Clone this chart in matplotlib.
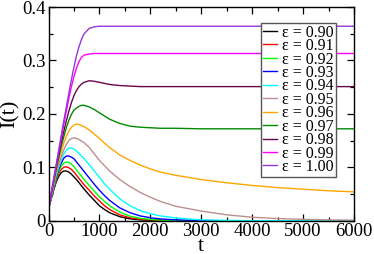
import matplotlib
matplotlib.use("Agg")
from matplotlib import pyplot as plt
from matplotlib.ticker import MultipleLocator, FuncFormatter

# time points (shared by every curve)
t = [0, 50, 100, 150, 200, 250, 300, 350, 400, 450, 500, 550, 600, 650, 700, 800, 900,
     1000, 1100, 1200, 1400, 1600, 1800, 2000, 2200, 2500, 3000, 3500, 4000, 4500, 5000,
     5500, 6000]

eps_labels = ['0.90', '0.91', '0.92', '0.93', '0.94', '0.95', '0.96', '0.97', '0.98', '0.99', '1.00']

I_090 = [0.022, 0.040, 0.057, 0.072, 0.083, 0.090, 0.093, 0.093, 0.091, 0.087, 0.082, 0.077, 0.071,
         0.065, 0.059, 0.048, 0.038, 0.028, 0.021, 0.015, 0.0075, 0.0035, 0.0015, 0.0007, 0.0003,
         0.0001, 0, 0, 0, 0, 0, 0, 0]
I_091 = [0.022, 0.041, 0.059, 0.075, 0.088, 0.096, 0.100, 0.101, 0.099, 0.096, 0.091, 0.085, 0.079,
         0.073, 0.067, 0.057, 0.046, 0.037, 0.028, 0.021, 0.011, 0.0055, 0.0027, 0.0013, 0.0006,
         0.0002, 0, 0, 0, 0, 0, 0, 0]
I_092 = [0.022, 0.042, 0.061, 0.078, 0.092, 0.102, 0.108, 0.110, 0.109, 0.106, 0.101, 0.095, 0.089,
         0.083, 0.077, 0.066, 0.055, 0.045, 0.036, 0.028, 0.016, 0.0085, 0.0045, 0.0023, 0.0012,
         0.0004, 0, 0, 0, 0, 0, 0, 0]
I_093 = [0.022, 0.043, 0.063, 0.081, 0.096, 0.108, 0.117, 0.121, 0.121, 0.119, 0.116, 0.110, 0.104,
         0.098, 0.092, 0.080, 0.068, 0.057, 0.047, 0.038, 0.024, 0.015, 0.009, 0.0055, 0.0033,
         0.0015, 0.0004, 0, 0, 0, 0, 0, 0]
I_094 = [0.022, 0.044, 0.065, 0.084, 0.100, 0.114, 0.125, 0.132, 0.136, 0.136, 0.134, 0.130, 0.126,
         0.121, 0.116, 0.105, 0.093, 0.081, 0.069, 0.059, 0.041, 0.028, 0.019, 0.013, 0.009,
         0.005, 0.0015, 0.0005, 0, 0, 0, 0, 0]
I_095 = [0.022, 0.045, 0.067, 0.087, 0.105, 0.120, 0.133, 0.143, 0.150, 0.154, 0.155, 0.154, 0.152,
         0.149, 0.146, 0.137, 0.125, 0.113, 0.103, 0.093, 0.077, 0.064, 0.053, 0.044, 0.036,
         0.027, 0.018, 0.011, 0.0065, 0.004, 0.0025, 0.0015, 0.001]
I_096 = [0.022, 0.046, 0.069, 0.091, 0.111, 0.129, 0.145, 0.158, 0.168, 0.175, 0.179, 0.181, 0.180,
         0.178, 0.176, 0.170, 0.162, 0.154, 0.145, 0.137, 0.123, 0.113, 0.104, 0.097, 0.091,
         0.085, 0.077, 0.071, 0.066, 0.062, 0.059, 0.056, 0.054]
I_097 = [0.022, 0.047, 0.072, 0.096, 0.118, 0.139, 0.157, 0.174, 0.188, 0.199, 0.207, 0.211, 0.214,
         0.216, 0.216, 0.213, 0.208, 0.202, 0.196, 0.190, 0.182, 0.177, 0.175, 0.174, 0.173,
         0.173, 0.172, 0.172, 0.172, 0.172, 0.172, 0.172, 0.172]
I_098 = [0.022, 0.048, 0.074, 0.099, 0.123, 0.146, 0.167, 0.187, 0.205, 0.221, 0.234, 0.244, 0.251,
         0.256, 0.259, 0.262, 0.261, 0.259, 0.257, 0.255, 0.253, 0.252, 0.251, 0.251, 0.251,
         0.251, 0.251, 0.251, 0.251, 0.251, 0.251, 0.251, 0.251]
I_099 = [0.022, 0.049, 0.076, 0.102, 0.128, 0.154, 0.180, 0.205, 0.229, 0.251, 0.270, 0.286, 0.298,
         0.306, 0.310, 0.312, 0.313, 0.313, 0.313, 0.313, 0.313, 0.313, 0.313, 0.313, 0.313,
         0.313, 0.313, 0.313, 0.313, 0.313, 0.313, 0.313, 0.313]
I_100 = [0.022, 0.050, 0.078, 0.105, 0.132, 0.160, 0.187, 0.213, 0.239, 0.264, 0.288, 0.309, 0.326,
         0.340, 0.350, 0.360, 0.363, 0.364, 0.364, 0.364, 0.364, 0.364, 0.364, 0.364, 0.364,
         0.364, 0.364, 0.364, 0.364, 0.364, 0.364, 0.364, 0.364]

curves = [I_090, I_091, I_092, I_093, I_094, I_095, I_096, I_097, I_098, I_099, I_100]
colors = ['#000000', '#ff0000', '#00ff00', '#0000ff', '#00ffff', '#bc8f8f', '#ffa500',
          '#008b00', '#670748', '#ff00ff', '#9436dc']

plt.rcParams['font.family'] = ['Liberation Serif', 'DejaVu Serif']

fig = plt.figure(figsize=(3.74, 2.54), dpi=100)
ax = fig.add_axes([0.1297, 0.1311, 0.9465 - 0.1297, 0.9724 - 0.1311])

for vals, col, lab in zip(curves, colors, eps_labels):
    ax.plot(t, vals, color=col, lw=1.0, label='\u03b5 = ' + lab)

ax.set_xlim(0, 6000)
ax.set_ylim(0, 0.4)
ax.xaxis.set_major_locator(MultipleLocator(1000))
ax.xaxis.set_minor_locator(MultipleLocator(500))
ax.yaxis.set_major_locator(MultipleLocator(0.1))
ax.yaxis.set_minor_locator(MultipleLocator(0.05))
ax.yaxis.set_major_formatter(FuncFormatter(lambda v, p: '0' if abs(v) < 1e-9 else f'{v:.1f}'))
ax.tick_params(which='both', direction='in', top=True, right=True, labelsize=13.5, pad=2)
ax.tick_params(which='major', length=5, width=0.9)
ax.tick_params(which='minor', length=3, width=0.9)
for s in ax.spines.values():
    s.set_linewidth(1.0)

ax.set_xlabel('t', fontsize=16, labelpad=-2.5)
ax.set_ylabel('I(t)', fontsize=16, labelpad=2)

leg = ax.legend(loc='upper right', bbox_to_anchor=(336 / 374, 1 - 22.7 / 254),
                bbox_transform=fig.transFigure, borderaxespad=0, fontsize=11.5,
                handlelength=0.85, handletextpad=0.35, labelspacing=-0.16,
                borderpad=0.12, fancybox=False, framealpha=1)
leg.get_frame().set_edgecolor('#555555')
leg.get_frame().set_linewidth(1.0)

fig.savefig('out.png', dpi=100)
